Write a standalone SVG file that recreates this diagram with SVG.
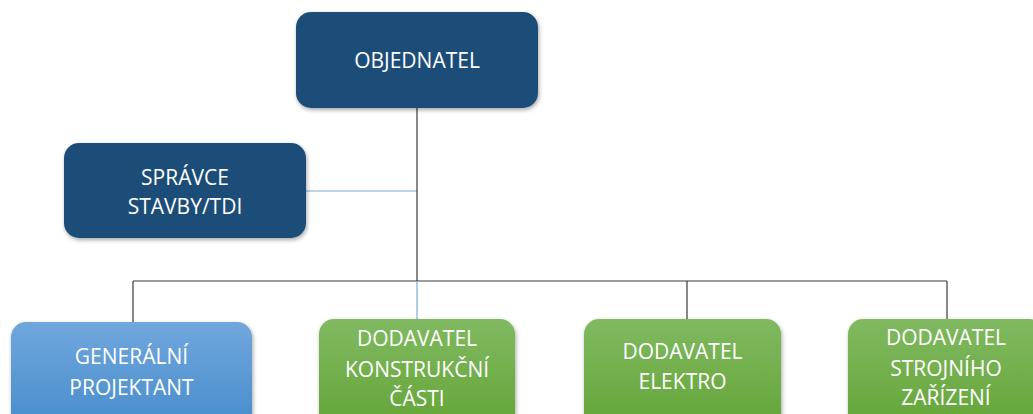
<svg xmlns="http://www.w3.org/2000/svg" width="1033" height="414" viewBox="0 0 1033 414">
  <defs>
    <filter id="shadow" x="-10%" y="-10%" width="120%" height="130%">
      <feDropShadow dx="1" dy="2" stdDeviation="2" flood-color="#000" flood-opacity="0.35"/>
    </filter>
    <linearGradient id="gBlue" x1="0" y1="0" x2="0" y2="1">
      <stop offset="0" stop-color="#70A7DD"/>
      <stop offset="1" stop-color="#468BCB"/>
    </linearGradient>
    <linearGradient id="gGreen" x1="0" y1="0" x2="0" y2="1">
      <stop offset="0" stop-color="#80B961"/>
      <stop offset="1" stop-color="#63A436"/>
    </linearGradient>
  </defs>
  <style>
    .box { filter: url(#shadow); }
    .navy { fill: #1F4E79; }
    .blue { fill: url(#gBlue); }
    .green { fill: url(#gGreen); }
    text { font-family: "Open Sans", "Noto Sans", sans-serif; font-size: 21px; fill: #FFFFFF; text-anchor: middle; }
    .ln { stroke: #3A3A3A; stroke-width: 1.2; fill: none; }
    .lb { stroke: #7EA9DA; stroke-width: 1.2; fill: none; }
  </style>

  <g id="connectors">
    <line class="lb" x1="306" y1="191" x2="417" y2="191"/>
    <line class="ln" x1="417" y1="108" x2="417" y2="281"/>
    <line class="ln" x1="133" y1="281" x2="947" y2="281"/>
    <line class="ln" x1="133" y1="281" x2="133" y2="322"/>
    <line class="lb" x1="417" y1="281" x2="417" y2="319"/>
    <line class="ln" x1="687" y1="281" x2="687" y2="319"/>
    <line class="ln" x1="947" y1="281" x2="947" y2="319"/>
  </g>

  <g id="objednatel">
    <rect class="box navy" x="296" y="12" width="242" height="96" rx="15"/>
    <text x="417" y="68">OBJEDNATEL</text>
  </g>

  <g id="spravce">
    <rect class="box navy" x="64" y="143" width="242" height="95" rx="15"/>
    <text x="185" y="185">SPRÁVCE</text>
    <text x="185" y="214">STAVBY/TDI</text>
  </g>

  <g id="generalni-projektant">
    <rect class="box blue" x="11" y="322" width="241" height="110" rx="15"/>
    <text x="131.5" y="364">GENERÁLNÍ</text>
    <text x="131.5" y="395">PROJEKTANT</text>
  </g>

  <g id="dodavatel-konstrukcni">
    <rect class="box green" x="319" y="319" width="196" height="113" rx="15"/>
    <text x="417" y="346">DODAVATEL</text>
    <text x="417" y="377">KONSTRUKČNÍ</text>
    <text x="417" y="406">ČÁSTI</text>
  </g>

  <g id="dodavatel-elektro">
    <rect class="box green" x="584" y="319" width="197" height="113" rx="15"/>
    <text x="682.5" y="359">DODAVATEL</text>
    <text x="682.5" y="389">ELEKTRO</text>
  </g>

  <g id="dodavatel-strojniho">
    <rect class="box green" x="848" y="319" width="196" height="113" rx="15"/>
    <text x="946" y="345">DODAVATEL</text>
    <text x="946" y="376">STROJNÍHO</text>
    <text x="946" y="405">ZAŘÍZENÍ</text>
  </g>
</svg>
